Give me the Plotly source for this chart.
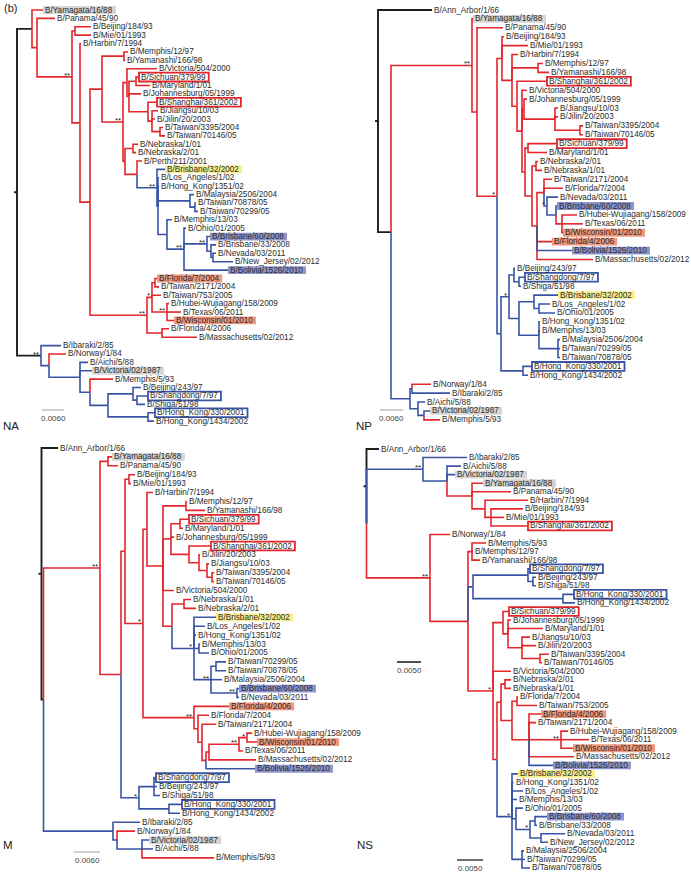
import plotly.graph_objects as go

W, H = 691, 873


def L(x, c, name):
    return {"x": x, "c": c, "name": name}


def N(x, c, kids, s=""):
    return {"x": x, "c": c, "kids": kids, "s": s}


# ---------------- data: trees (node depth, branch colour, children, support) -------------
NA_TREE = N(17, "k", [
    N(32, "k", [
        L(43, "r", "B/Yamagata/16/88"),
        N(37, "r", [
            L(55, "r", "B/Panama/45/90"),
            N(72, "r", [
                N(75, "r", [L(91, "r", "B/Beijing/184/93"), L(91, "r", "B/Mie/01/1993")]),
                N(80, "r", [
                    L(81, "r", "B/Harbin/7/1994"),
                    N(90, "r", [
                        N(102, "r", [
                            N(124, "r", [L(128, "r", "B/Memphis/12/97"), L(125, "r", "B/Yamanashi/166/98")]),
                            N(123, "r", [
                                N(127, "r", [
                                    L(157, "r", "B/Victoria/504/2000"),
                                    N(129, "r", [
                                        N(136, "r", [L(139, "r", "B/Sichuan/379/99"), L(150, "r", "B/Maryland/1/01")]),
                                        L(141, "r", "B/Johannesburg/05/1999"),
                                        N(148, "r", [
                                            L(157, "r", "B/Shanghai/361/2002"),
                                            N(152, "r", [L(158, "r", "B/Jiangsu/10/03"), L(155, "r", "B/Jilin/20/2003"),
                                                         N(160, "r", [L(163, "r", "B/Taiwan/3395/2004"),
                                                                      L(165, "r", "B/Taiwan/70146/05")])]),
                                        ]),
                                    ]),
                                ]),
                                N(125, "r", [
                                    N(133, "r", [L(138, "r", "B/Nebraska/1/01"), L(136, "r", "B/Nebraska/2/01")]),
                                    N(137, "r", [
                                        L(142, "r", "B/Perth/211/2001"),
                                        N(157, "b", [
                                            L(165, "b", "B/Brisbane/32/2002"),
                                            N(158, "b", [
                                                L(159, "b", "B/Los_Angeles/1/02"),
                                                L(159, "b", "B/Hong_Kong/1351/02"),
                                                N(190, "b", [L(194, "b", "B/Malaysia/2506/2004"),
                                                             N(195, "b", [L(196, "b", "B/Taiwan/70878/05"),
                                                                          L(198, "b", "B/Taiwan/70299/05")])]),
                                                N(167, "b", [
                                                    L(172, "b", "B/Memphis/13/03"),
                                                    N(184, "b", [
                                                        L(186, "b", "B/Ohio/01/2005"),
                                                        N(207, "b", [
                                                            L(210, "b", "B/Brisbane/60/2008"),
                                                            N(211, "b", [L(216, "b", "B/Brisbane/33/2008"),
                                                                         N(213, "b", [L(216, "b", "B/Nevada/03/2011"),
                                                                                      L(233, "b", "B/New_Jersey/02/2012")])]),
                                                        ], "**"),
                                                        L(228, "b", "B/Bolivia/1526/2010"),
                                                    ], "**"),
                                                ]),
                                            ]),
                                        ], "**"),
                                    ]),
                                ]),
                            ], "**"),
                        ]),
                        N(147, "r", [
                            N(152, "r", [
                                N(155, "r", [L(157, "r", "B/Florida/7/2004"), L(159, "r", "B/Taiwan/2171/2004")]),
                                L(161, "r", "B/Taiwan/753/2005"),
                                N(167, "r", [L(169, "r", "B/Hubei-Wujiagang/158/2009"), L(181, "r", "B/Texas/06/2011"),
                                             L(174, "r", "B/Wisconsin/01/2010")], "**"),
                            ], "*"),
                            N(162, "r", [L(169, "r", "B/Florida/4/2006"), L(197, "r", "B/Massachusetts/02/2012")]),
                        ], "**"),
                    ]),
                ]),
            ], "**"),
        ]),
    ]),
    N(41, "k", [
        L(61, "b", "B/Ibaraki/2/85"),
        N(49, "b", [
            L(66, "r", "B/Norway/1/84"),
            N(80, "b", [
                L(88, "b", "B/Aichi/5/88"),
                L(92, "b", "B/Victoria/02/1987"),
                N(90, "b", [
                    L(113, "r", "B/Memphis/5/93"),
                    N(108, "b", [
                        N(133, "b", [L(141, "b", "B/Beijing/243/97"),
                                     N(137, "b", [L(148, "b", "B/Shangdong/7/97"), L(145, "b", "B/Shiga/51/98")])]),
                        N(148, "b", [L(155, "b", "B/Hong_Kong/330/2001"), L(154, "b", "B/Hong_Kong/1434/2002")]),
                    ]),
                ]),
            ]),
        ]),
    ], "**"),
])

NP_TREE = N(378, "k", [
    L(432, "k", "B/Ann_Arbor/1/66"),
    N(391, "k", [
        N(472, "r", [
            L(473, "r", "B/Yamagata/16/88"),
            N(477, "r", [
                L(503, "r", "B/Panama/45/90"),
                N(497, "r", [
                    N(502, "r", [
                        L(504, "r", "B/Beijing/184/93"),
                        L(528, "r", "B/Mie/01/1993"),
                        N(512, "r", [
                            L(518, "r", "B/Harbin/7/1994"),
                            N(538, "r", [L(543, "r", "B/Memphis/12/97"), L(549, "r", "B/Yamanashi/166/98")]),
                            N(517, "r", [
                                L(547, "r", "B/Shanghai/361/2002"),
                                N(522, "r", [
                                    L(527, "r", "B/Victoria/504/2000"),
                                    N(524, "r", [
                                        L(527, "r", "B/Johannesburg/05/1999"),
                                        N(555, "r", [
                                            L(558, "r", "B/Jiangsu/10/03"),
                                            L(558, "r", "B/Jilin/20/2003"),
                                            N(580, "r", [L(583, "r", "B/Taiwan/3395/2004"),
                                                         L(583, "r", "B/Taiwan/70146/05")]),
                                        ]),
                                    ]),
                                    N(525, "r", [
                                        N(528, "r", [L(557, "r", "B/Sichuan/379/99"), L(547, "r", "B/Maryland/1/01")]),
                                        N(532, "r", [
                                            N(536, "r", [L(538, "r", "B/Nebraska/2/01"), L(542, "r", "B/Nebraska/1/01")]),
                                            N(537, "r", [
                                                N(544, "r", [
                                                    L(552, "r", "B/Taiwan/2171/2004"),
                                                    L(563, "r", "B/Florida/7/2004"),
                                                    N(547, "b", [
                                                        L(558, "b", "B/Nevada/03/2011"),
                                                        N(556, "b", [
                                                            L(557, "b", "B/Brisbane/60/2008"),
                                                            N(562, "r", [L(577, "r", "B/Hubei-Wujiagang/158/2009"),
                                                                         L(583, "r", "B/Texas/06/2011"),
                                                                         L(563, "r", "B/Wisconsin/01/2010")]),
                                                        ]),
                                                    ], "*"),
                                                ]),
                                                L(552, "r", "B/Florida/4/2006"),
                                                L(572, "b", "B/Bolivia/1526/2010"),
                                                L(593, "r", "B/Massachusetts/02/2012"),
                                            ]),
                                        ]),
                                    ]),
                                ]),
                            ]),
                        ]),
                    ]),
                    N(501, "b", [
                        N(509, "b", [
                            N(514, "b", [L(515, "b", "B/Beijing/243/97"),
                                         N(519, "b", [L(525, "b", "B/Shangdong/7/97"), L(521, "b", "B/Shiga/51/98")])]),
                            N(519, "b", [
                                N(534, "b", [L(558, "b", "B/Brisbane/32/2002"),
                                             N(539, "b", [L(550, "b", "B/Los_Angeles/1/02"), L(555, "b", "B/Ohio/01/2005")])]),
                                N(539, "b", [L(540, "b", "B/Hong_Kong/1351/02"), L(540, "b", "B/Memphis/13/03"),
                                             N(558, "b", [L(560, "b", "B/Malaysia/2506/2004"),
                                                          L(560, "b", "B/Taiwan/70299/05"),
                                                          L(560, "b", "B/Taiwan/70878/05")])]),
                            ]),
                        ], "*"),
                        N(523, "b", [L(532, "b", "B/Hong_Kong/330/2001"), L(528, "b", "B/Hong_Kong/1434/2002")]),
                    ]),
                ], "*"),
            ]),
        ], "**"),
        N(410, "b", [
            N(412, "b", [L(431, "r", "B/Norway/1/84"), L(450, "b", "B/Ibaraki/2/85")]),
            N(418, "b", [L(425, "b", "B/Aichi/5/88"),
                         N(424, "b", [L(430, "b", "B/Victoria/02/1987"), L(440, "r", "B/Memphis/5/93")])]),
        ]),
    ]),
])

M_TREE = N(41.5, "k", [
    L(58, "k", "B/Ann_Arbor/1/66"),
    N(43.5, "k", [
        N(100, "r", [
            N(108, "r", [L(112, "r", "B/Yamagata/16/88"), L(118, "r", "B/Panama/45/90")]),
            N(121, "r", [
                N(125, "r", [
                    N(129, "r", [L(135, "r", "B/Beijing/184/93"), L(131, "r", "B/Mie/01/1993")]),
                    N(143, "r", [
                        N(147, "r", [
                            L(153, "r", "B/Harbin/7/1994"),
                            N(163, "r", [
                                N(186, "r", [L(187, "r", "B/Memphis/12/97"), L(205, "r", "B/Yamanashi/166/98")]),
                                N(171, "r", [
                                    N(180, "r", [L(189, "r", "B/Sichuan/379/99"), L(183, "r", "B/Maryland/1/01")]),
                                    L(174, "r", "B/Johannesburg/05/1999"),
                                    N(189, "r", [L(211, "r", "B/Shanghai/361/2002"),
                                                 N(199, "r", [L(200, "r", "B/Jilin/20/2003"),
                                                              N(207, "r", [L(209, "r", "B/Jiangsu/10/03"),
                                                                           N(212, "r", [L(214, "r", "B/Taiwan/3395/2004"),
                                                                                        L(214, "r", "B/Taiwan/70146/05")])])])]),
                                ]),
                                L(174, "r", "B/Victoria/504/2000"),
                                N(172, "r", [
                                    N(184, "r", [L(191, "r", "B/Nebraska/1/01"), L(196, "r", "B/Nebraska/2/01")]),
                                    N(194, "b", [
                                        L(216, "b", "B/Brisbane/32/2002"),
                                        L(205, "b", "B/Los_Angeles/1/02"),
                                        L(196, "b", "B/Hong_Kong/1351/02"),
                                        N(199, "b", [L(200, "b", "B/Memphis/13/03"), L(209, "b", "B/Ohio/01/2005")]),
                                        N(211, "b", [
                                            N(216, "b", [L(226, "b", "B/Taiwan/70299/05"), L(226, "b", "B/Taiwan/70878/05")]),
                                            L(222, "b", "B/Malaysia/2506/2004"),
                                            N(237, "b", [L(239, "b", "B/Brisbane/60/2008"), L(239, "b", "B/Nevada/03/2011")], "**"),
                                        ], "**"),
                                    ], "*"),
                                ]),
                            ]),
                        ]),
                        N(194, "r", [
                            L(229, "r", "B/Florida/4/2006"),
                            N(198, "r", [
                                L(209, "r", "B/Florida/7/2004"),
                                N(202, "r", [
                                    L(216, "r", "B/Taiwan/2171/2004"),
                                    N(206, "r", [
                                        N(209, "r", [
                                            N(239, "r", [
                                                N(247, "r", [L(252, "r", "B/Hubei-Wujiagang/158/2009"),
                                                             L(257, "r", "B/Wisconsin/01/2010")], "*"),
                                                L(243, "r", "B/Texas/06/2011"),
                                            ], "**"),
                                            L(256, "r", "B/Massachusetts/02/2012"),
                                        ]),
                                        L(255, "b", "B/Bolivia/1526/2010"),
                                    ]),
                                ]),
                            ]),
                        ], "**"),
                    ], "*"),
                ]),
                N(139, "b", [
                    N(154, "b", [L(156, "b", "B/Shangdong/7/97"), L(157, "b", "B/Beijing/243/97"),
                                 L(160, "b", "B/Shiga/51/98")]),
                    N(169, "b", [L(182, "b", "B/Hong_Kong/330/2001"), L(180, "b", "B/Hong_Kong/1434/2002")]),
                ], "*"),
            ]),
        ], "**"),
        N(113, "b", [
            L(140, "b", "B/Ibaraki/2/85"),
            N(117, "b", [L(135, "r", "B/Norway/1/84"),
                         N(142, "b", [L(149, "b", "B/Victoria/02/1987"), L(153, "b", "B/Aichi/5/88"),
                                      L(214, "r", "B/Memphis/5/93")])]),
        ]),
    ]),
])

NS_TREE = N(366.5, "k", [
    L(379, "k", "B/Ann_Arbor/1/66"),
    N(366.5, "k", [
        N(423, "b", [
            L(467, "b", "B/Ibaraki/2/85"),
            N(447, "b", [
                L(461, "b", "B/Aichi/5/88"),
                L(455, "b", "B/Victoria/02/1987"),
                N(472, "r", [
                    L(483, "r", "B/Yamagata/16/88"),
                    L(511, "r", "B/Panama/45/90"),
                    N(485, "r", [L(528, "r", "B/Harbin/7/1994"),
                                 N(491, "r", [L(523, "r", "B/Beijing/184/93"), L(504, "r", "B/Mie/01/1993"),
                                              L(528, "r", "B/Shanghai/361/2002")])]),
                ]),
            ]),
        ], "**"),
        N(430, "r", [
            L(450, "r", "B/Norway/1/84"),
            N(468, "r", [
                N(472, "r", [L(486, "r", "B/Memphis/5/93"), L(473, "r", "B/Memphis/12/97"),
                             L(480, "r", "B/Yamanashi/166/98")]),
                N(473, "b", [
                    N(528, "b", [L(530, "b", "B/Shangdong/7/97"),
                                 N(533, "b", [L(536, "b", "B/Beijing/243/97"), L(536, "b", "B/Shiga/51/98")])]),
                    N(563, "b", [L(574, "b", "B/Hong_Kong/330/2001"), L(575, "b", "B/Hong_Kong/1434/2002")]),
                ]),
                N(493, "r", [
                    N(503, "r", [
                        L(509, "r", "B/Sichuan/379/99"),
                        N(508, "r", [
                            L(511, "r", "B/Johannesburg/05/1999"),
                            L(543, "r", "B/Maryland/1/01"),
                            N(522, "r", [L(530, "r", "B/Jiangsu/10/03"), L(536, "r", "B/Jilin/20/2003"),
                                         N(540, "r", [L(549, "r", "B/Taiwan/3395/2004"), L(542, "r", "B/Taiwan/70146/05")])]),
                        ]),
                    ]),
                    L(511, "r", "B/Victoria/504/2000"),
                    N(497, "r", [
                        N(501, "r", [
                            N(505, "r", [L(511, "r", "B/Nebraska/2/01"), L(511, "r", "B/Nebraska/1/01")]),
                            N(512, "r", [
                                N(517, "r", [L(518, "r", "B/Florida/7/2004"), L(537, "r", "B/Taiwan/753/2005")]),
                                N(529, "r", [
                                    L(541, "r", "B/Florida/4/2006"),
                                    L(536, "r", "B/Taiwan/2171/2004"),
                                    N(561, "r", [L(568, "r", "B/Hubei-Wujiagang/158/2009"), L(589, "r", "B/Texas/06/2011"),
                                                 L(573, "r", "B/Wisconsin/01/2010")], "**"),
                                    L(574, "r", "B/Massachusetts/02/2012"),
                                    L(553, "b", "B/Bolivia/1526/2010"),
                                ]),
                            ]),
                        ]),
                        N(512, "b", [
                            L(518, "b", "B/Brisbane/32/2002"),
                            L(513.5, "b", "B/Hong_Kong/1351/02"),
                            L(523, "b", "B/Los_Angeles/1/02"),
                            L(517, "b", "B/Memphis/13/03"),
                            N(516, "b", [
                                L(523, "b", "B/Ohio/01/2005"),
                                N(530, "b", [
                                    N(535, "b", [L(547, "b", "B/Brisbane/60/2008"), L(537, "b", "B/Brisbane/33/2008")]),
                                    N(541, "b", [L(565, "b", "B/Nevada/03/2011"), L(548, "b", "B/New_Jersey/02/2012")]),
                                ], "*"),
                            ]),
                            N(522, "b", [L(524, "b", "B/Malaysia/2506/2004"), L(525, "b", "B/Taiwan/70299/05"),
                                         L(530, "b", "B/Taiwan/70878/05")]),
                        ], "*"),
                    ]),
                ], "*"),
            ]),
        ], "**"),
    ]),
])

# label highlighting
STYLE_COMMON = {
    "B/Yamagata/16/88": "grey",
    "B/Victoria/02/1987": "grey",
    "B/Brisbane/32/2002": "yellow",
    "B/Brisbane/60/2008": "bluefill",
    "B/Bolivia/1526/2010": "bluefill",
    "B/Florida/4/2006": "orange",
    "B/Wisconsin/01/2010": "orange",
    "B/Sichuan/379/99": "redbox",
    "B/Shanghai/361/2002": "redbox",
    "B/Shangdong/7/97": "bluebox",
    "B/Hong_Kong/330/2001": "bluebox",
}
NA_STYLES = {k: v for k, v in STYLE_COMMON.items() if k != "B/Florida/4/2006"}
NA_STYLES["B/Florida/7/2004"] = "orange"

# scale bars: (value label, length in tree depth units)
SCALE_NA = [(0.0060, 22)]
SCALE_NP = [(0.0060, 23)]
SCALE_M = [(0.0060, 26)]
SCALE_NS = [(0.0050, 24), (0.0050, 26)]

# ---------------- styling ----------------
COL = {"r": "#e3262b", "b": "#3a54a5", "k": "#1e1e1e"}
FILL = {"grey": "#d5d5d5", "yellow": "#f6ef8c", "bluefill": "#8e94cb", "orange": "#f0987d"}
BOX = {"redbox": "#e3262b", "bluebox": "#3a54a5"}
FONT = "Liberation Sans, Arial, Helvetica, sans-serif"
FS = 8.2
TXT = "#2c2c2c"

AW = {'A': 667, 'B': 667, 'C': 722, 'D': 722, 'E': 667, 'F': 611, 'G': 778, 'H': 722, 'I': 278, 'J': 500,
      'K': 667, 'L': 556, 'M': 833, 'N': 722, 'O': 778, 'P': 667, 'Q': 778, 'R': 722, 'S': 667, 'T': 611,
      'U': 722, 'V': 667, 'W': 944, 'X': 667, 'Y': 667, 'Z': 611,
      'a': 556, 'b': 556, 'c': 500, 'd': 556, 'e': 556, 'f': 278, 'g': 556, 'h': 556, 'i': 222, 'j': 222,
      'k': 500, 'l': 222, 'm': 833, 'n': 556, 'o': 556, 'p': 556, 'q': 556, 'r': 333, 's': 500, 't': 278,
      'u': 556, 'v': 500, 'w': 722, 'x': 500, 'y': 500, 'z': 500, '/': 278, '_': 556, '-': 333}


def text_w(s):
    return sum(AW.get(ch, 556) for ch in s) / 1000.0 * FS


PANELS = [
    dict(tree=NA_TREE, styles=NA_STYLES, area=(0, 0, 345, 430), first=10, step=8.39,
         name=("NA", 2, 426), bars=[(42, 410, "#a0a0a0", 1.0)], scale=SCALE_NA),
    dict(tree=NP_TREE, styles=STYLE_COMMON, area=(345, 0, 691, 430), first=10, step=8.91,
         name=("NP", 355, 426), bars=[(380, 410, "#a0a0a0", 1.0)], scale=SCALE_NP),
    dict(tree=M_TREE, styles=STYLE_COMMON, area=(0, 430, 345, 873), first=448, step=8.91,
         name=("M", 2, 845), bars=[(74, 852, "#a0a0a0", 1.0)], scale=SCALE_M),
    dict(tree=NS_TREE, styles=STYLE_COMMON, area=(345, 430, 691, 873), first=449, step=8.55,
         name=("NS", 356, 845), bars=[(397, 662, "#222222", 1.6), (457, 860, "#333333", 1.4)], scale=SCALE_NS),
]


def assign_y(node, counter):
    if "name" in node:
        node["y"] = counter[0]
        counter[0] += 1
    else:
        for k in node["kids"]:
            assign_y(k, counter)
        node["y"] = (node["kids"][0]["y"] + node["kids"][-1]["y"]) / 2.0


def collect(node, segs, leaves, supports):
    if "name" in node:
        leaves.append(node)
        return
    if node.get("s"):
        supports.append(node)
    for k in node["kids"]:
        xs, ys = segs[k["c"]]
        xs += [node["x"], node["x"], k["x"], None]
        ys += [node["y"], k["y"], k["y"], None]
        collect(k, segs, leaves, supports)


fig = go.Figure()
annotations = []
shapes = []
layout_axes = {}

for i, P in enumerate(PANELS, start=1):
    xa = "x" if i == 1 else f"x{i}"
    ya = "y" if i == 1 else f"y{i}"
    x0, y0, x1, y1 = P["area"]
    first, step = P["first"], P["step"]

    def py(px, first=first, step=step):
        return (px - first) / step

    layout_axes[f"xaxis{'' if i == 1 else i}"] = dict(
        domain=[x0 / W, x1 / W], range=[x0, x1], visible=False, fixedrange=True, anchor=ya)
    layout_axes[f"yaxis{'' if i == 1 else i}"] = dict(
        domain=[1 - y1 / H, 1 - y0 / H], range=[py(y1), py(y0)], visible=False, fixedrange=True, anchor=xa)

    tree = P["tree"]
    assign_y(tree, [0])
    segs = {"r": ([], []), "b": ([], []), "k": ([], [])}
    leaves, supports = [], []
    collect(tree, segs, leaves, supports)
    # root tick
    segs["k"][0].extend([tree["x"] - 3, tree["x"], None])
    segs["k"][1].extend([tree["y"], tree["y"], None])

    for c in ["k", "r", "b"]:
        xs, ys = segs[c]
        fig.add_trace(go.Scatter(x=xs, y=ys, mode="lines", xaxis=xa, yaxis=ya,
                                 line=dict(color=COL[c], width=1.9 if c == "k" else 1.6),
                                 hoverinfo="skip", showlegend=False))

    for lf in leaves:
        st = P["styles"].get(lf["name"])
        if st:
            wpx = text_w(lf["name"]) + 5
            if st in FILL:
                hh = 3.9 / step
                shapes.append(dict(type="rect", xref=xa, yref=ya, x0=lf["x"], x1=lf["x"] + wpx,
                                   y0=lf["y"] - hh, y1=lf["y"] + hh, fillcolor=FILL[st],
                                   line=dict(width=0), layer="below"))
            else:
                hh = 4.4 / step
                shapes.append(dict(type="rect", xref=xa, yref=ya, x0=lf["x"], x1=lf["x"] + wpx,
                                   y0=lf["y"] - hh, y1=lf["y"] + hh, fillcolor="rgba(0,0,0,0)",
                                   line=dict(color=BOX[st], width=1.8), layer="above"))
        annotations.append(dict(x=lf["x"], y=lf["y"], xref=xa, yref=ya, text=lf["name"], showarrow=False,
                                xanchor="left", yanchor="middle", xshift=2, borderpad=0, borderwidth=0,
                                font=dict(family=FONT, size=FS, color=TXT)))

    for nd in supports:
        annotations.append(dict(x=nd["x"], y=nd["y"], xref=xa, yref=ya, text=nd["s"], showarrow=False,
                                xanchor="right", yanchor="bottom", xshift=-1, yshift=-4, borderpad=0,
                                font=dict(family=FONT, size=8, color="#222")))

    for (val, length), (bx, by, bcol, bw) in zip(P["scale"], P["bars"]):
        shapes.append(dict(type="line", xref=xa, yref=ya, x0=bx, x1=bx + length, y0=py(by), y1=py(by),
                           line=dict(color=bcol, width=bw)))
        annotations.append(dict(x=bx + length / 2.0, y=py(by + 8), xref=xa, yref=ya, text=f"{val:.4f}",
                                showarrow=False, xanchor="center", yanchor="middle", borderpad=0,
                                font=dict(family=FONT, size=8, color="#444")))

    nm, nx, ny = P["name"]
    annotations.append(dict(x=nx / W, y=1 - ny / H, xref="paper", yref="paper", text=nm, showarrow=False,
                            xanchor="left", yanchor="middle", borderpad=0,
                            font=dict(family=FONT, size=11.5, color="#222")))

annotations.append(dict(x=3 / W, y=1 - 8 / H, xref="paper", yref="paper", text="(b)", showarrow=False,
                        xanchor="left", yanchor="middle", borderpad=0,
                        font=dict(family=FONT, size=11, color="#222")))

fig.update_layout(width=W, height=H, margin=dict(l=0, r=0, t=0, b=0), paper_bgcolor="white",
                  plot_bgcolor="white", showlegend=False, annotations=annotations, shapes=shapes,
                  **layout_axes)

fig.write_html("out.html", config={"displayModeBar": False},
               post_script="document.body.style.margin='0';document.body.style.overflow='hidden';")
